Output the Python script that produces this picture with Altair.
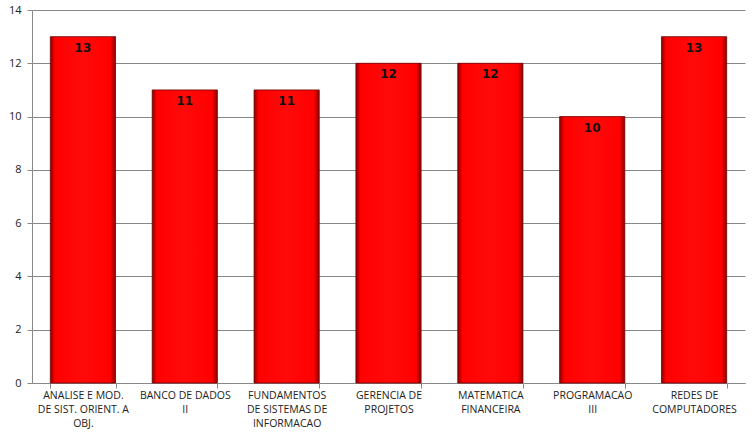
import altair as alt
import pandas as pd

categories = [
    "ANALISE E MOD.|DE SIST. ORIENT.  A|OBJ.",
    "BANCO DE DADOS|II",
    "FUNDAMENTOS|DE SISTEMAS  DE|INFORMACAO",
    "GERENCIA  DE|PROJETOS",
    "MATEMATICA|FINANCEIRA",
    "PROGRAMACAO|III",
    "REDES DE|COMPUTADORES",
]
values = [13, 11, 11, 12, 12, 10, 13]
y_ticks = [0, 2, 4, 6, 8, 10, 12, 14]

df = pd.DataFrame({"cat": categories, "val": values})

x_enc = alt.X(
    "cat:N",
    sort=categories,
    scale=alt.Scale(paddingInner=0.36, paddingOuter=0.18),
    axis=alt.Axis(
        title=None,
        labelAngle=0,
        labelExpr="split(datum.label, '|')",
        labelFont="Open Sans",
        labelFontSize=10.5,
        labelColor="#222222",
        labelLineHeight=14,
        labelPadding=2,
        labelLimit=0,
        tickBand="extent",
        tickSize=5,
        tickColor="#888888",
        domainColor="#888888",
        grid=False,
    ),
)
y_enc = alt.Y(
    "val:Q",
    scale=alt.Scale(domain=[0, 14], nice=False),
    axis=alt.Axis(
        title=None,
        values=y_ticks,
        labelFont="Open Sans",
        labelFontSize=11,
        labelColor="#222222",
        labelPadding=6,
        tickSize=5,
        tickColor="#888888",
        domainColor="#888888",
        gridColor="#888888",
        gridWidth=1,
    ),
)

grad = alt.Gradient(
    gradient="linear",
    x1=0, x2=1, y1=0, y2=0,
    stops=[
        alt.GradientStop(color="#8a0000", offset=0),
        alt.GradientStop(color="#ff0000", offset=0.07),
        alt.GradientStop(color="#ff0a0a", offset=0.5),
        alt.GradientStop(color="#ff0000", offset=0.92),
        alt.GradientStop(color="#8a0000", offset=1),
    ],
)

bars = alt.Chart(df).mark_bar(color=grad, stroke="#700000", strokeWidth=0.8).encode(
    x=x_enc, y=y_enc
)
text = alt.Chart(df).mark_text(
    baseline="top", dy=6, font="DejaVu Sans", fontWeight="bold", fontSize=12, color="#111111"
).encode(x=alt.X("cat:N", sort=categories), y="val:Q", text="val:Q")

chart = (
    alt.layer(bars, text)
    .properties(
        width=713,
        height=373,
        padding={"left": 32, "top": 10, "right": 7, "bottom": 51},
        autosize="none",
        background="white",
    )
    .configure_view(stroke=None)
)

chart.save("out.html", embed_options={"renderer": "svg", "actions": False})
